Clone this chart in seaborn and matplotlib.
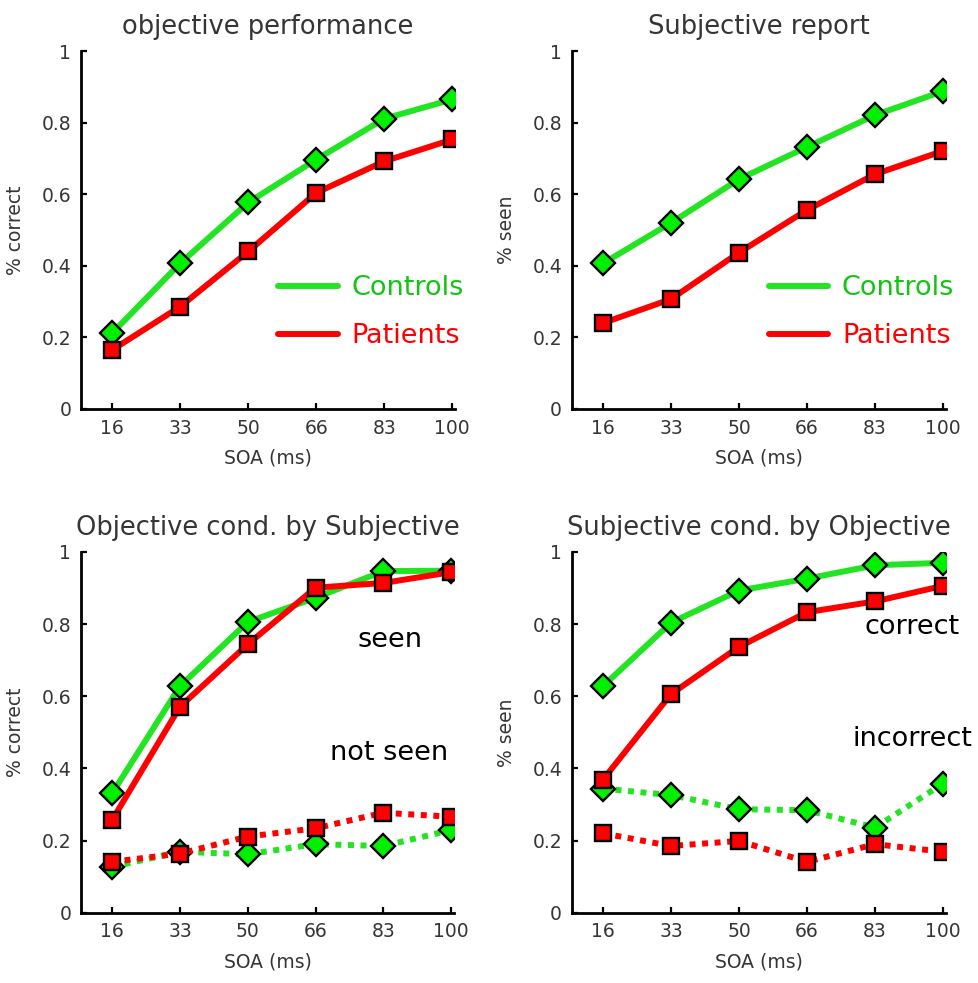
import numpy as np
import pandas as pd
import matplotlib
matplotlib.use("Agg")
import matplotlib.pyplot as plt
import seaborn as sns
from matplotlib.lines import Line2D

sns.set_theme(style="ticks")
plt.rcParams["font.family"] = ["DejaVu Sans"]

# Stimulus onset asynchrony (ms)
soa = ["16", "33", "50", "66", "83", "100"]

# Panel A: objective performance (% correct)
obj_controls = [0.212, 0.407, 0.577, 0.697, 0.811, 0.865]
obj_patients = [0.165, 0.286, 0.440, 0.604, 0.692, 0.753]

# Panel B: subjective report (% seen)
subj_controls = [0.407, 0.520, 0.642, 0.732, 0.821, 0.888]
subj_patients = [0.240, 0.307, 0.437, 0.556, 0.656, 0.721]

# Panel C: objective performance conditioned on subjective report
seen_controls = [0.331, 0.628, 0.806, 0.873, 0.947, 0.948]
seen_patients = [0.257, 0.571, 0.744, 0.901, 0.914, 0.944]
notseen_controls = [0.127, 0.169, 0.162, 0.190, 0.185, 0.229]
notseen_patients = [0.141, 0.164, 0.211, 0.234, 0.277, 0.266]

# Panel D: subjective report conditioned on objective performance
correct_controls = [0.628, 0.804, 0.893, 0.926, 0.963, 0.970]
correct_patients = [0.369, 0.606, 0.737, 0.833, 0.863, 0.906]
incorrect_controls = [0.344, 0.326, 0.287, 0.284, 0.236, 0.358]
incorrect_patients = [0.220, 0.185, 0.199, 0.141, 0.190, 0.169]

GREEN_LINE = "#22e422"
GREEN_FACE = "#00f000"
GREEN_TEXT = "#14c414"
RED = "#ff0000"
GREY = "#353535"

pos = np.arange(len(soa))

fig = plt.figure(figsize=(9.79, 9.83), dpi=100)
axes = [
    fig.add_axes([0.0827, 0.584, 0.382, 0.364]),
    fig.add_axes([0.584, 0.584, 0.382, 0.364]),
    fig.add_axes([0.0827, 0.0715, 0.381, 0.367]),
    fig.add_axes([0.584, 0.0715, 0.382, 0.367]),
]


def draw(ax, values, group, dotted=False):
    df = pd.DataFrame({"pos": pos, "value": values})
    is_ctrl = group == "Controls"
    sns.lineplot(
        data=df, x="pos", y="value", ax=ax,
        color=GREEN_LINE if is_ctrl else RED,
        linewidth=4.3,
        linestyle=(0, (1.0, 1.1)) if dotted else "-",
        marker="D" if is_ctrl else "s",
        markersize=12 if is_ctrl else 12,
        markerfacecolor=GREEN_FACE if is_ctrl else RED,
        markeredgecolor="black",
        markeredgewidth=1.7,
        legend=False,
    )


def style(ax, title, ylabel):
    ax.set_xlim(-0.46, 5.04)
    ax.set_ylim(0, 1)
    ax.set_xticks(pos)
    ax.set_xticklabels(soa)
    ax.set_yticks([0, 0.2, 0.4, 0.6, 0.8, 1.0])
    ax.set_yticklabels(["0", "0.2", "0.4", "0.6", "0.8", "1"])
    ax.tick_params(direction="in", length=4, width=1.6, colors="black",
                   labelcolor=GREY, labelsize=13.5, pad=7)
    for side in ("top", "right"):
        ax.spines[side].set_visible(False)
    for side in ("left", "bottom"):
        ax.spines[side].set_linewidth(2.0)
        ax.spines[side].set_color("black")
    ax.set_xlabel("SOA (ms)", fontsize=13.5, color=GREY, labelpad=8)
    ax.set_ylabel(ylabel, fontsize=13.5, color=GREY, labelpad=12)
    ax.set_title(title, fontsize=18.5, color=GREY, pad=12)
    ax.grid(False)


def legend(ax):
    handles = [Line2D([], [], color=GREEN_LINE, lw=4.3),
               Line2D([], [], color=RED, lw=4.3)]
    leg = ax.legend(handles, ["Controls", "Patients"], loc="center left",
                    bbox_to_anchor=(0.527, 0.27), frameon=False, fontsize=19.5,
                    handlelength=2.2, handletextpad=0.5, labelspacing=0.8,
                    borderpad=0, borderaxespad=0)
    for txt, c in zip(leg.get_texts(), [GREEN_TEXT, RED]):
        txt.set_color(c)


ax = axes[0]
draw(ax, obj_controls, "Controls")
draw(ax, obj_patients, "Patients")
style(ax, "objective performance", "% correct")
legend(ax)

ax = axes[1]
draw(ax, subj_controls, "Controls")
draw(ax, subj_patients, "Patients")
style(ax, "Subjective report", "% seen")
legend(ax)

ax = axes[2]
draw(ax, seen_controls, "Controls")
draw(ax, notseen_controls, "Controls", dotted=True)
draw(ax, seen_patients, "Patients")
draw(ax, notseen_patients, "Patients", dotted=True)
style(ax, "Objective cond. by Subjective", "% correct")
ax.text(4.09, 0.755, "seen", fontsize=19.5, ha="center", va="center", color="black")
ax.text(4.09, 0.442, "not seen", fontsize=19.5, ha="center", va="center", color="black")

ax = axes[3]
draw(ax, correct_controls, "Controls")
draw(ax, incorrect_controls, "Controls", dotted=True)
draw(ax, correct_patients, "Patients")
draw(ax, incorrect_patients, "Patients", dotted=True)
style(ax, "Subjective cond. by Objective", "% seen")
ax.text(4.55, 0.791, "correct", fontsize=19.5, ha="center", va="center", color="black")
ax.text(4.55, 0.481, "incorrect", fontsize=19.5, ha="center", va="center", color="black")

fig.savefig("out.png", dpi=100)
